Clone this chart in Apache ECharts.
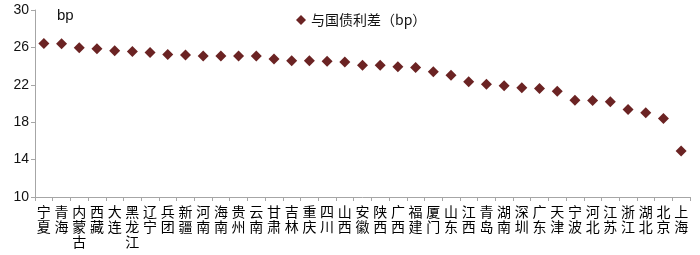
<!DOCTYPE html>
<html><head><meta charset="utf-8">
<script src="https://cdn.jsdelivr.net/npm/echarts@6/dist/echarts.min.js"></script>
<style>html,body{margin:0;padding:0;background:#fff}#c{width:700px;height:255px}</style>
</head><body><div id="c"></div>
<script>
const categories = ['宁夏','青海','内蒙古','西藏','大连','黑龙江','辽宁','兵团','新疆','河南','海南','贵州','云南','甘肃','吉林','重庆','四川','山西','安徽','陕西','广西','福建','厦门','山东','江西','青岛','湖南','深圳','广东','天津','宁波','河北','江苏','浙江','湖北','北京','上海'];
const spreadValues = [26.43,26.4,25.96,25.85,25.64,25.57,25.46,25.25,25.18,25.07,25.07,25.07,25.07,24.75,24.57,24.57,24.53,24.43,24.1,24.1,23.93,23.86,23.39,23.03,22.32,22.07,21.89,21.68,21.61,21.32,20.36,20.32,20.18,19.36,19.0,18.39,14.92];
const seriesName = '与国债利差（bp）';
const yTicks = {min:10, max:30, interval:4};

const chart = echarts.init(document.getElementById('c'));
const axisColor = '#A6A6A6';
chart.setOption({
  animation:false,
  grid:{left:35,right:10,top:10,bottom:58},
  legend:{left:291,top:8,itemWidth:10,itemHeight:10,itemGap:4,
    textStyle:{fontFamily:'Noto Sans CJK SC',fontSize:14,color:'#111'},
    data:[{name:seriesName,icon:'diamond'}]},
  xAxis:{type:'category',data:categories,boundaryGap:true,
    axisLine:{lineStyle:{color:axisColor}},
    axisTick:{show:true,alignWithLabel:false,length:4,lineStyle:{color:axisColor}},
    axisLabel:{interval:0,margin:7,fontFamily:'Noto Sans CJK SC',fontSize:14,color:'#000',lineHeight:15,
      formatter:v=>v.split('').join('\n')}},
  yAxis:{type:'value',min:yTicks.min,max:yTicks.max,interval:yTicks.interval,
    name:'bp',nameLocation:'end',nameGap:-6,
    nameTextStyle:{align:'left',verticalAlign:'middle',padding:[0,0,0,22],fontFamily:'Liberation Sans',fontSize:15,color:'#111'},
    splitLine:{show:false},
    axisLine:{show:true,lineStyle:{color:axisColor}},
    axisTick:{show:true,length:4,lineStyle:{color:axisColor}},
    axisLabel:{margin:6,fontFamily:'Liberation Sans',fontSize:14,color:'#111'}},
  series:[{name:seriesName,type:'scatter',symbol:'diamond',symbolSize:11,
    itemStyle:{color:'#6B2323',opacity:1},data:spreadValues}]
});
</script></body></html>
